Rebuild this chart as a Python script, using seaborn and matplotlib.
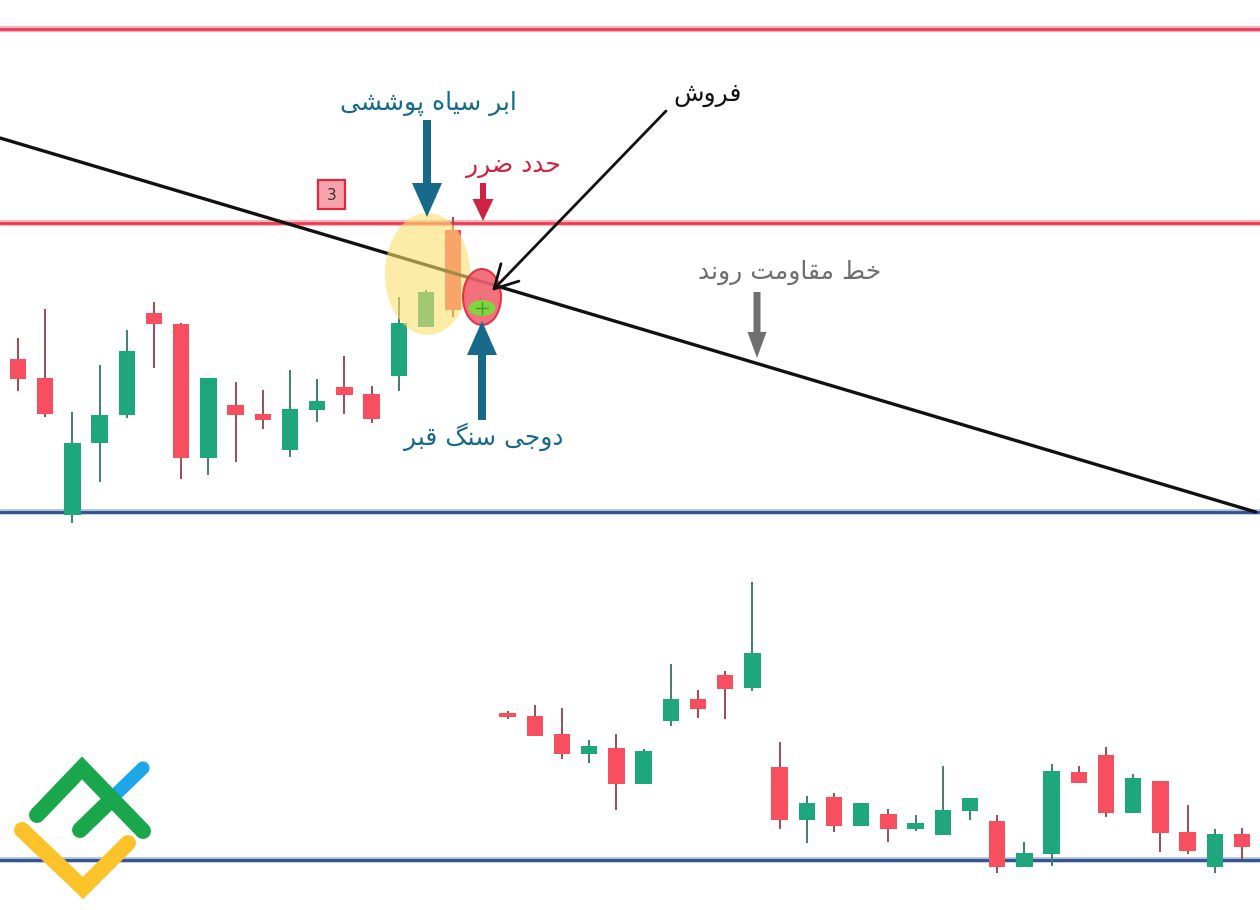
import numpy as np
import pandas as pd
import matplotlib
matplotlib.use("Agg")
import matplotlib.pyplot as plt
from matplotlib.patches import Ellipse, Rectangle
import seaborn as sns

# ---------------- data (price units) ----------------
opens = [551, 532, 395, 467, 495, 597, 586, 452, 505, 496, 460, 500, 523, 516, 534, 583, 680, 601,
         197, 194, 176, 156, 162, 126, 189, 211, 235, 222, 143, 90, 113, 84, 96, 81, 75, 99,
         89, 43, 56, 138, 155, 97, 129, 78, 43, 76]
highs = [572, 601, 498, 545, 580, 608, 587, 532, 528, 520, 540, 531, 554, 524, 613, 620, 693, 612,
         199, 205, 202, 170, 176, 161, 246, 220, 239, 328, 168, 114, 117, 107, 101, 95, 144, 112,
         95, 68, 146, 144, 163, 136, 129, 105, 81, 82]
lows = [519, 493, 387, 428, 492, 542, 431, 435, 448, 481, 453, 488, 496, 487, 519, 583, 593, 594,
        191, 174, 151, 147, 100, 126, 184, 192, 191, 219, 81, 67, 78, 84, 68, 79, 75, 90,
        37, 43, 44, 127, 93, 97, 58, 56, 37, 50]
closes = [531, 496, 467, 495, 559, 586, 452, 532, 495, 490, 501, 509, 515, 491, 587, 618, 600, 605,
          193, 174, 156, 164, 126, 159, 211, 201, 221, 257, 90, 107, 84, 107, 81, 87, 100, 112,
          43, 57, 139, 127, 97, 132, 77, 59, 76, 63]

resistance_levels = [881.5, 687.5]
support_levels = [398, 50]
trend_x = [-0.66, 45.5]
trend_y = [772, 398]

labels = {
    "cloud": "ابر سیاه پوششی",
    "stop": "حدد ضرر",
    "sell": "فروش",
    "trend": "خط مقاومت روند",
    "doji": "دوجی سنگ قبر",
}
box_label = "3"

# ---------------- Persian shaping (presentation forms, visual order) ----------------
FORMS = {
    'ا': ('\uFE8D', '\uFE8E', None, None),
    'ب': ('\uFE8F', '\uFE90', '\uFE91', '\uFE92'),
    'پ': ('\uFB56', '\uFB57', '\uFB58', '\uFB59'),
    'ت': ('\uFE95', '\uFE96', '\uFE97', '\uFE98'),
    'ج': ('\uFE9D', '\uFE9E', '\uFE9F', '\uFEA0'),
    'ح': ('\uFEA1', '\uFEA2', '\uFEA3', '\uFEA4'),
    'خ': ('\uFEA5', '\uFEA6', '\uFEA7', '\uFEA8'),
    'د': ('\uFEA9', '\uFEAA', None, None),
    'ر': ('\uFEAD', '\uFEAE', None, None),
    'س': ('\uFEB1', '\uFEB2', '\uFEB3', '\uFEB4'),
    'ش': ('\uFEB5', '\uFEB6', '\uFEB7', '\uFEB8'),
    'ض': ('\uFEBD', '\uFEBE', '\uFEBF', '\uFEC0'),
    'ط': ('\uFEC1', '\uFEC2', '\uFEC3', '\uFEC4'),
    'ف': ('\uFED1', '\uFED2', '\uFED3', '\uFED4'),
    'ق': ('\uFED5', '\uFED6', '\uFED7', '\uFED8'),
    'گ': ('\uFB92', '\uFB93', '\uFB94', '\uFB95'),
    'م': ('\uFEE1', '\uFEE2', '\uFEE3', '\uFEE4'),
    'ن': ('\uFEE5', '\uFEE6', '\uFEE7', '\uFEE8'),
    'ه': ('\uFEE9', '\uFEEA', '\uFEEB', '\uFEEC'),
    'و': ('\uFEED', '\uFEEE', None, None),
    'ی': ('\uFBFC', '\uFBFD', '\uFBFE', '\uFBFF'),
}


def shape(s):
    out = []
    for i, c in enumerate(s):
        if c not in FORMS:
            out.append(c)
            continue
        prev = s[i - 1] if i > 0 else ''
        nxt = s[i + 1] if i + 1 < len(s) else ''
        jp = prev in FORMS and FORMS[prev][2] is not None
        jn = FORMS[c][2] is not None and nxt in FORMS
        iso, fin, ini, med = FORMS[c]
        if jp and jn:
            out.append(med)
        elif jp:
            out.append(fin)
        elif jn:
            out.append(ini)
        else:
            out.append(iso)
    return ''.join(reversed(out))


# ---------------- style ----------------
sns.set_theme(style="white")
plt.rcParams['font.family'] = ['DejaVu Sans', 'Noto Sans']

UP = "#1ea67c"
DOWN = "#f74f5f"
UP_WICK = "#3f7f66"
DOWN_WICK = "#9a4e58"
TEAL = "#17698a"
CRIMSON = "#cc2442"

df = pd.DataFrame({"open": opens, "high": highs, "low": lows, "close": closes})
df["idx"] = np.arange(len(df))
df["up"] = df["close"] >= df["open"]

fig = plt.figure(figsize=(12.6, 9.1), dpi=100)
ax = fig.add_axes([0, 0, 1, 1])
ax.set_facecolor("white")

# horizontal levels
for lv in resistance_levels:
    ax.axhline(lv, color="#f9b6be", lw=4.5, zorder=1)
    ax.axhline(lv, color="#ee3b52", lw=2.0, zorder=1.1)
for lv in support_levels:
    ax.axhline(lv, color="#a9bedb", lw=4.0, zorder=1)
    ax.axhline(lv, color="#2f4f8c", lw=2.0, zorder=1.1)

# candles
wick_cols = np.where(df["up"], UP_WICK, DOWN_WICK)
body_cols = np.where(df["up"], UP, DOWN)
ax.vlines(df["idx"], df["low"], df["high"], colors=wick_cols, lw=1.4, zorder=2)
bottoms = np.minimum(df["open"], df["close"])
heights = np.maximum(np.abs(df["close"] - df["open"]), 2)
ax.bar(df["idx"], heights, bottom=bottoms, width=0.6, color=body_cols, zorder=3, linewidth=0)

# trend resistance line
trend = pd.DataFrame({"x": trend_x, "y": trend_y})
sns.lineplot(data=trend, x="x", y="y", ax=ax, color="#111111", lw=2.4, zorder=4)

ax.set_xlim(-0.662, 45.66)
ax.set_ylim(0, 910)
ax.axis("off")

# ---------------- annotation overlay (pixel frame) ----------------
ov = fig.add_axes([0, 0, 1, 1], zorder=2)
ov.set_xlim(0, 1260)
ov.set_ylim(910, 0)
ov.axis("off")
ov.patch.set_alpha(0)

# highlight ellipses
ov.add_patch(Ellipse((427.5, 274), 85, 122, facecolor="#fbe06e", alpha=0.6, edgecolor="none", zorder=1))
ov.add_patch(Ellipse((482, 297), 38, 56, facecolor="#f2606f", alpha=0.9, edgecolor="#e0283c", lw=1.5, zorder=2))
ov.add_patch(Ellipse((482, 308), 27, 16, facecolor="#84d240", edgecolor="none", zorder=3))
ov.plot([482, 482], [302, 314], color="#3f9a3a", lw=1, zorder=4)
ov.plot([476, 488], [308, 308], color="#3f9a3a", lw=1, zorder=4)

# numbered box
ov.add_patch(Rectangle((318, 180), 27, 29, facecolor="#f7a3ad", edgecolor="#e0283c", lw=1.6, zorder=2))
ov.text(331.5, 195, box_label, ha="center", va="center", fontsize=11, color="#333333", zorder=3)


def fat_arrow(tail, tip, color, shaft, hw, hl):
    k = 0.72
    ov.annotate("", xy=tip, xytext=tail,
                arrowprops=dict(arrowstyle=f"simple,head_length={hl*k},head_width={hw*k},tail_width={shaft*k}",
                                mutation_scale=1, color=color, shrinkA=0, shrinkB=0, lw=0),
                zorder=6)


fat_arrow((427, 120), (427, 217), TEAL, 8, 30, 34)
fat_arrow((482, 420), (482, 321), TEAL, 8, 30, 34)
fat_arrow((483, 183), (483, 221), CRIMSON, 6, 21, 22)
fat_arrow((757, 292), (757, 358), "#707070", 7, 19, 26)

# sell arrow
ov.annotate("", xy=(492, 291), xytext=(666, 111),
            arrowprops=dict(arrowstyle="->,head_length=0.55,head_width=0.3", mutation_scale=30,
                            color="#111111", lw=2.0, shrinkA=0, shrinkB=0), zorder=7)

# texts
ov.text(428, 103, shape(labels["cloud"]), ha="center", va="center", fontsize=18, color=TEAL, zorder=8)
ov.text(513, 166, shape(labels["stop"]), ha="center", va="center", fontsize=18, color=CRIMSON, zorder=8)
ov.text(708, 95, shape(labels["sell"]), ha="center", va="center", fontsize=18, color="#111111", zorder=8)
ov.text(790, 272, shape(labels["trend"]), ha="center", va="center", fontsize=18, color="#6e6e6e", zorder=8)
ov.text(484, 437, shape(labels["doji"]), ha="center", va="center", fontsize=18, color=TEAL, zorder=8)

# logo
lw_logo = 11.5
ov.plot([113, 143], [797, 768], color="#1ea7e8", lw=9.5, solid_capstyle="round", zorder=9)
ov.plot([37, 82, 143], [815, 768, 831], color="#1aa64a", lw=lw_logo, solid_capstyle="round",
        solid_joinstyle="miter", zorder=10)
ov.plot([80, 112], [830, 799], color="#1aa64a", lw=lw_logo, solid_capstyle="round", zorder=10)
ov.plot([22, 83, 128], [830, 888, 843], color="#fbc22a", lw=lw_logo, solid_capstyle="round",
        solid_joinstyle="miter", zorder=11)

fig.savefig("out.png", dpi=100, facecolor="white")
